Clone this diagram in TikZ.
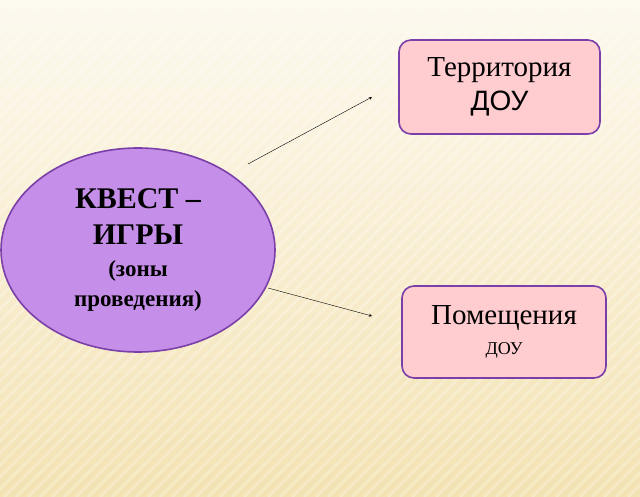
\documentclass[tikz,border=0pt]{standalone}
\usepackage{fontspec}
\setmainfont{Liberation Serif}
\newfontfamily\arialfont{Liberation Sans}
\usetikzlibrary{shapes.geometric}
\definecolor{bgtop}{HTML}{FDF9EF}
\definecolor{bgbot}{HTML}{F3E2B2}
\definecolor{zonefill}{HTML}{C58EE8}
\definecolor{zoneline}{HTML}{7A3FA8}
\definecolor{boxfill}{HTML}{FFCCD0}
\tikzset{
  zonebox/.style={draw=zoneline, line width=1.6pt, fill=boxfill, rounded corners=12pt, align=center},
  link/.style={black, thin, -stealth}
}
\begin{document}
\begin{tikzpicture}[x=1pt, y=-1pt]
  \useasboundingbox (0,0) rectangle (640,497);
  \shade[top color=bgtop, bottom color=bgbot] (0,0) rectangle (640,497);
  \foreach \i in {-500,-488,...,640}
    \draw[white, opacity=0.25, line width=3pt] (\i,497) -- (\i+497,0);

  \node[ellipse, draw=zoneline, line width=1.6pt, fill=zonefill, minimum width=274pt, minimum height=204pt, align=center, font=\bfseries\fontsize{30}{36}\selectfont] (kvest) at (138,250)
    {КВЕСТ –\\ИГРЫ\\[-4pt]{\fontsize{23}{28}\selectfont (зоны}\\[-6pt]{\fontsize{23}{28}\selectfont проведения)}};

  \node[zonebox, minimum width=201pt, minimum height=94pt, font=\fontsize{29}{34}\selectfont] (terr) at (499.5,87)
    {Территория\\{\arialfont\fontsize{28}{34}\selectfont ДОУ}};
  \node[zonebox, minimum width=204pt, minimum height=92pt, font=\fontsize{29}{30}\selectfont] (pom) at (504,332)
    {Помещения\\{\fontsize{18}{20}\selectfont ДОУ}};

  \coordinate (a1) at (248,164);
  \coordinate (a2) at (372,97);
  \coordinate (b1) at (268,288);
  \coordinate (b2) at (372,316);
  \draw[link] (a1) -- (a2);
  \draw[link] (b1) -- (b2);
\end{tikzpicture}
\end{document}
